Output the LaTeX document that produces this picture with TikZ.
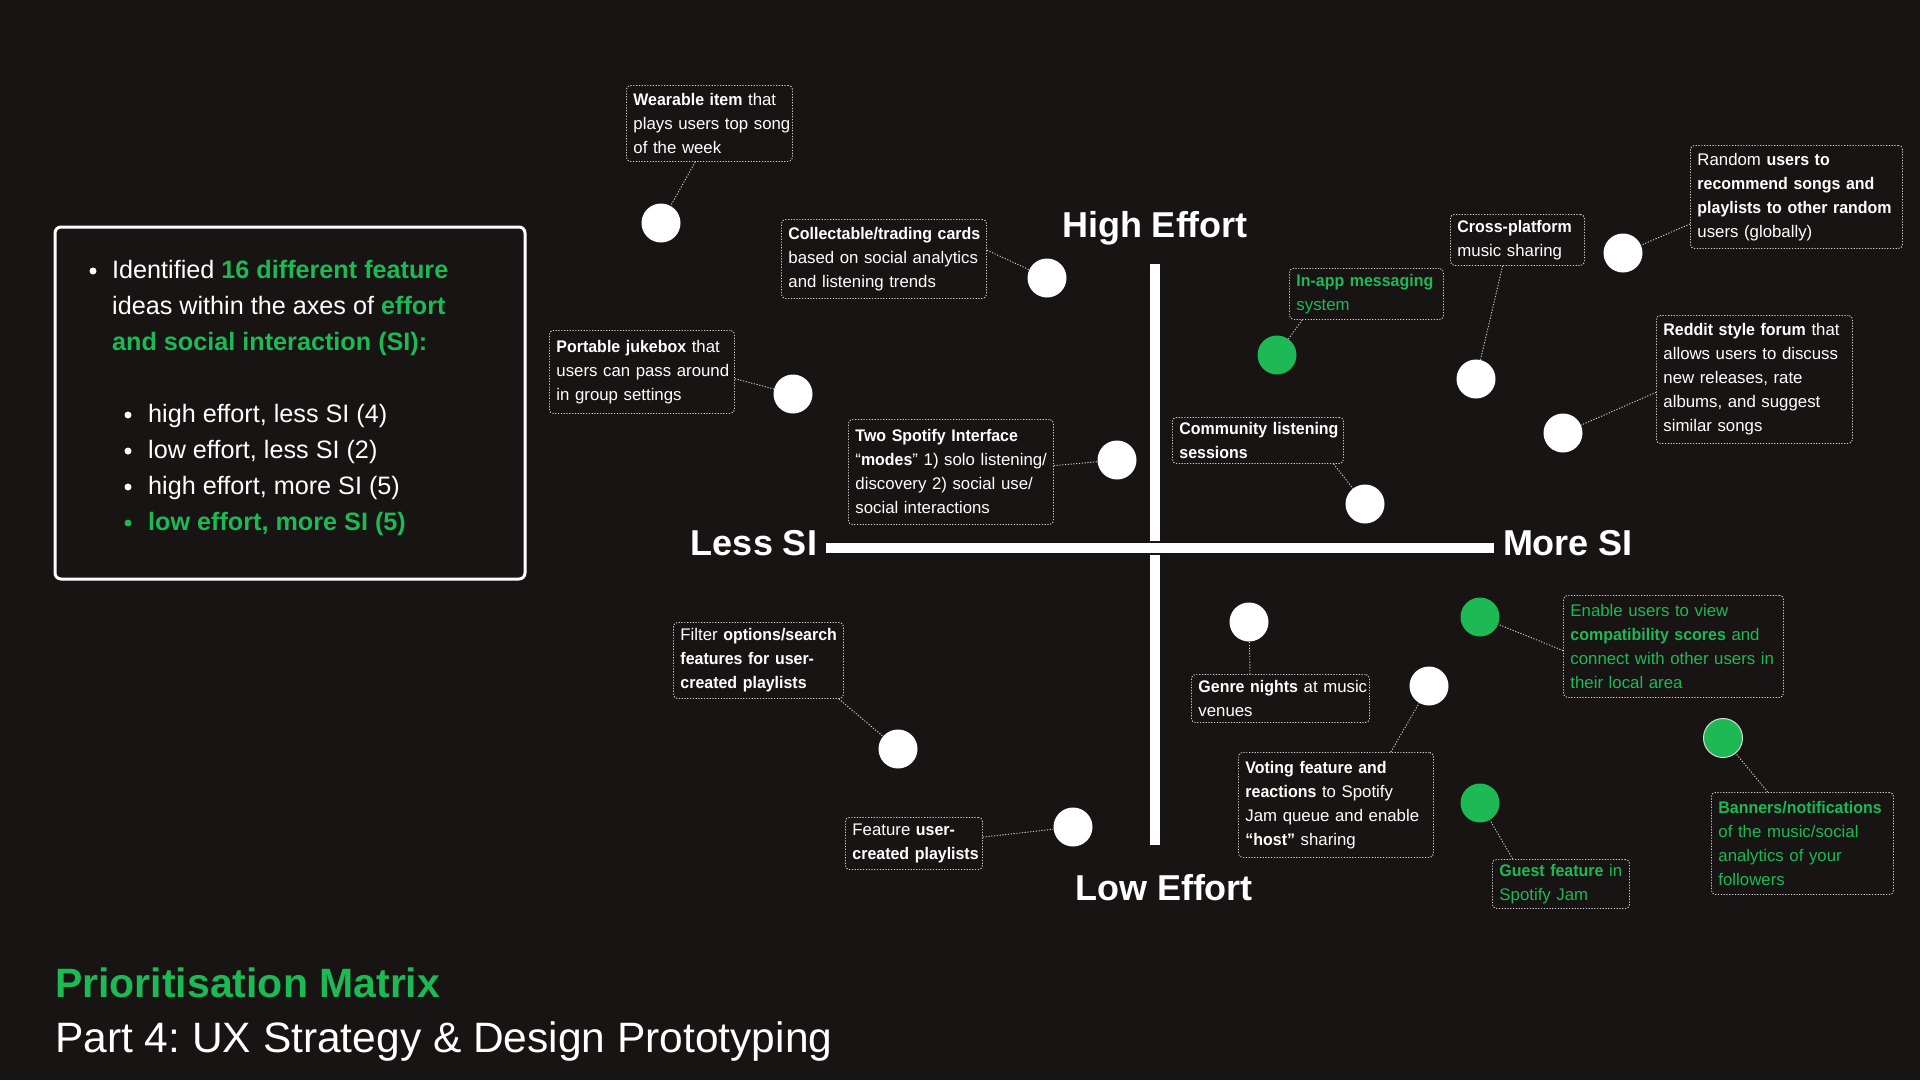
\documentclass[tikz,border=0pt]{standalone}
\usepackage{fontspec}
\setmainfont{Liberation Sans}
\newfontfamily\boxfam{Liberation Sans}[BoldFeatures={FakeStretch=0.95}]
\usetikzlibrary{calc}
\definecolor{bg}{HTML}{191414}
\definecolor{spgreen}{HTML}{1DB954}
\definecolor{dotline}{HTML}{CFCFCF}
\newcommand\boxfont{\boxfam\fontsize{16.8}{24}\selectfont}
\newcommand\listfont{\fontsize{25.2}{36}\selectfont}
\newcommand\axisfont{\fontsize{36}{40}\selectfont\bfseries}
\frenchspacing
\begin{document}
\begin{tikzpicture}[x=1pt,y=-1pt,
  lbl/.style={draw=dotline, line width=0.9pt, dash pattern=on 1.2pt off 1.6pt,
    rounded corners=4pt, inner xsep=7pt, inner ysep=0pt, anchor=north west,
    align=left, font=\boxfont, text=white},
  glbl/.style={lbl, text=spgreen},
  dot/.style={circle, fill=white, minimum size=39pt, inner sep=0pt},
  gdot/.style={dot, fill=spgreen},
  conn/.style={draw=dotline, line width=0.9pt, dash pattern=on 1.2pt off 1.6pt},
  axislbl/.style={font=\axisfont, text=white, anchor=base, inner sep=0pt},
  listtxt/.style={font=\listfont, text=white, anchor=base west, inner sep=0pt},
  bullet/.style={circle, fill=white, minimum size=7pt, inner sep=0pt}]

% canvas
\fill[bg] (0,0) rectangle (1920,1080);
\useasboundingbox (0,0) rectangle (1920,1080);

% summary panel
\draw[white, line width=3pt, rounded corners=6pt] (55,227) rectangle (525,579);
\node[bullet] (bl0) at (93,271) {};
\node[listtxt] (t1) at (112,278) {Identified \textcolor{spgreen}{\textbf{16 different feature}}};
\node[listtxt] (t2) at (112,314) {ideas within the axes of \textcolor{spgreen}{\textbf{effort}}};
\node[listtxt, text=spgreen] (t3) at (112,350) {\textbf{and social interaction (SI):}};
\node[bullet] (bl1) at (128,415) {};
\node[bullet] (bl2) at (128,451) {};
\node[bullet] (bl3) at (128,487) {};
\node[bullet, fill=spgreen] (bl4) at (128,523) {};
\node[listtxt] (s1) at (148,422) {high effort, less SI (4)};
\node[listtxt] (s2) at (148,458) {low effort, less SI (2)};
\node[listtxt] (s3) at (148,494) {high effort, more SI (5)};
\node[listtxt, text=spgreen] (s4) at (148,530) {\textbf{low effort, more SI (5)}};

% axes
\draw[bg, line width=14pt] (1155,264) -- (1155,845);
\draw[white, line width=10pt] (1155,264) -- (1155,845);
\draw[bg, line width=14pt] (826,548) -- (1494,548);
\draw[white, line width=10pt] (826,548) -- (1494,548);
\node[axislbl] (hi) at (1155,237) {High Effort};
\node[axislbl] (lo) at (1164,900) {Low Effort};
\node[axislbl] (less) at (754,555) {Less SI};
\node[axislbl] (more) at (1568,555) {More SI};

% feature dots
\node[dot]  (d1)  at (661,223) {};
\node[dot]  (d2)  at (1047,278) {};
\node[dot]  (d3)  at (793,394) {};
\node[dot]  (d4)  at (1117,460) {};
\node[gdot] (d5)  at (1277,355) {};
\node[dot]  (d6)  at (1476,379) {};
\node[dot]  (d7)  at (1623,253) {};
\node[dot]  (d8)  at (1563,433) {};
\node[dot]  (d9)  at (1365,504) {};
\node[dot]  (d10) at (1249,622) {};
\node[dot]  (d11) at (1429,686) {};
\node[gdot] (d12) at (1480,617) {};
\node[gdot, draw=white!85!black, line width=1pt] (d13) at (1723,738) {};
\node[gdot] (d14) at (1480,803) {};
\node[dot]  (d15) at (898,749) {};
\node[dot]  (d16) at (1073,827) {};

% feature labels
\node[lbl, text width=152pt, minimum height=76pt] (b1) at (626,85)
  {\mbox{\textbf{Wearable item} that}\\\mbox{plays users top song}\\\mbox{of the week}};
\node[lbl, text width=191pt, minimum height=79pt] (b2) at (781,219)
  {\mbox{\textbf{Collectable/trading cards}}\\\mbox{based on social analytics}\\\mbox{and listening trends}};
\node[lbl, text width=171pt, minimum height=83pt] (b3) at (549,330)
  {\mbox{\textbf{Portable jukebox} that}\\\mbox{users can pass around}\\\mbox{in group settings}};
\node[lbl, text width=191pt, minimum height=105pt] (b4) at (848,419)
  {\mbox{\textbf{Two Spotify Interface}}\\\mbox{“\textbf{modes}” 1) solo listening/}\\\mbox{discovery 2) social use/}\\\mbox{social interactions}};
\node[glbl, text width=140pt, minimum height=51pt] (b5) at (1289,268)
  {\mbox{\textbf{In-app messaging}}\\\mbox{system}};
\node[lbl, text width=120pt, minimum height=51pt] (b6) at (1450,214)
  {\mbox{\textbf{Cross-platform}}\\\mbox{music sharing}};
\node[lbl, text width=198pt, minimum height=103pt] (b7) at (1690,145)
  {\mbox{Random \textbf{users to}}\\\mbox{\textbf{recommend songs and}}\\\mbox{\textbf{playlists to other random}}\\\mbox{users (globally)}};
\node[lbl, text width=182pt, minimum height=128pt] (b8) at (1656,315)
  {\mbox{\textbf{Reddit style forum} that}\\\mbox{allows users to discuss}\\\mbox{new releases, rate}\\\mbox{albums, and suggest}\\\mbox{similar songs}};
\node[lbl, text width=157pt, minimum height=46pt] (b9) at (1172,417)
  {\mbox{\textbf{Community listening}}\\\mbox{\textbf{sessions}}};
\node[lbl, text width=164pt, minimum height=48pt] (b10) at (1191,674)
  {\mbox{\textbf{Genre nights} at music}\\\mbox{venues}};
\node[lbl, text width=181pt, minimum height=105pt] (b11) at (1238,752)
  {\mbox{\textbf{Voting feature and}}\\\mbox{\textbf{reactions} to Spotify}\\\mbox{Jam queue and enable}\\\mbox{\textbf{“host”} sharing}};
\node[glbl, text width=206pt, minimum height=102pt] (b12) at (1563,595)
  {\mbox{Enable users to view}\\\mbox{\textbf{compatibility scores} and}\\\mbox{connect with other users in}\\\mbox{their local area}};
\node[glbl, text width=168pt, minimum height=102pt] (b13) at (1711,792)
  {\mbox{\textbf{Banners/notifications}}\\\mbox{of the music/social}\\\mbox{analytics of your}\\\mbox{followers}};
\node[glbl, text width=123pt, minimum height=49pt] (b14) at (1492,859)
  {\mbox{\textbf{Guest feature} in}\\\mbox{Spotify Jam}};
\node[lbl, text width=156pt, minimum height=76pt] (b15) at (673,622)
  {\mbox{Filter \textbf{options/search}}\\\mbox{\textbf{features for user-}}\\\mbox{\textbf{created playlists}}};
\node[lbl, text width=123pt, minimum height=52pt] (b16) at (845,817)
  {\mbox{Feature \textbf{user-}}\\\mbox{\textbf{created playlists}}};

% leader lines
\draw[conn] ($(b1.south west)!0.415!(b1.south east)$) -- (d1);
\draw[conn] ($(b2.north east)!0.39!(b2.south east)$) -- (d2);
\draw[conn] ($(b3.north east)!0.58!(b3.south east)$) -- (d3);
\draw[conn] ($(b4.north east)!0.44!(b4.south east)$) -- (d4);
\draw[conn] ($(b5.south west)!0.085!(b5.south east)$) -- (d5);
\draw[conn] ($(b6.south west)!0.39!(b6.south east)$) -- (d6);
\draw[conn] ($(b7.north west)!0.76!(b7.south west)$) -- (d7);
\draw[conn] ($(b8.north west)!0.60!(b8.south west)$) -- (d8);
\draw[conn] ($(b9.south west)!0.94!(b9.south east)$) -- (d9);
\draw[conn] ($(b10.north west)!0.33!(b10.north east)$) -- (d10);
\draw[conn] ($(b11.north west)!0.78!(b11.north east)$) -- (d11);
\draw[conn] ($(b12.north west)!0.54!(b12.south west)$) -- (d12);
\draw[conn] ($(b13.north west)!0.31!(b13.north east)$) -- (d13);
\draw[conn] ($(b14.north west)!0.15!(b14.north east)$) -- (d14);
\draw[conn] ($(b15.south west)!0.97!(b15.south east)$) -- (d15);
\draw[conn] ($(b16.north east)!0.38!(b16.south east)$) -- (d16);

% titles
\node[anchor=base west, inner sep=0pt, text=spgreen, font=\fontsize{41}{48}\selectfont\bfseries] (title) at (55,997) {Prioritisation Matrix};
\node[anchor=base west, inner sep=0pt, text=white, font=\fontsize{42.5}{50}\selectfont] (subtitle) at (55,1052) {Part 4: UX Strategy \& Design Prototyping};
\end{tikzpicture}
\end{document}
